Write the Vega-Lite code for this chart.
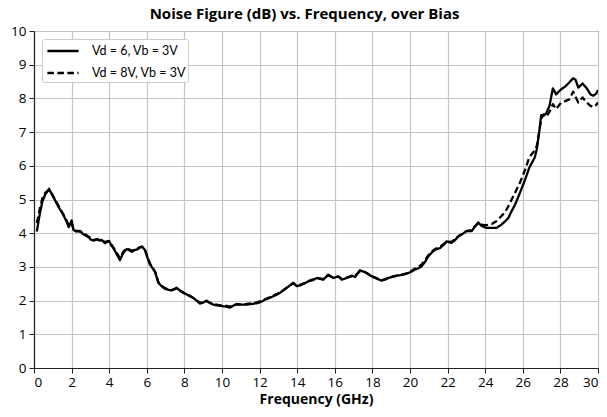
{
  "$schema": "https://vega.github.io/schema/vega-lite/v6.json",
  "autosize": "none",
  "width": 564,
  "height": 337,
  "padding": {"left": 34, "top": 31, "right": 9, "bottom": 49},
  "background": "white",
  "title": {
    "text": "Noise Figure (dB) vs. Frequency, over Bias",
    "font": "Open Sans",
    "fontSize": 15,
    "fontWeight": "bold",
    "color": "black",
    "anchor": "middle",
    "frame": "bounds",
    "offset": 2
  },
  "data": {
    "values": [
      {"f": 0.15, "vd6": 4.05, "vd8": 4.3},
      {"f": 0.3, "vd6": 4.55, "vd8": 4.7},
      {"f": 0.45, "vd6": 4.95, "vd8": 5.05},
      {"f": 0.6, "vd6": 5.15, "vd8": 5.2},
      {"f": 0.8, "vd6": 5.32, "vd8": 5.28},
      {"f": 0.95, "vd6": 5.15, "vd8": 5.18},
      {"f": 1.1, "vd6": 5.0, "vd8": 5.02},
      {"f": 1.3, "vd6": 4.78, "vd8": 4.82},
      {"f": 1.45, "vd6": 4.65, "vd8": 4.66},
      {"f": 1.6, "vd6": 4.5, "vd8": 4.52},
      {"f": 1.75, "vd6": 4.32, "vd8": 4.36},
      {"f": 1.85, "vd6": 4.18, "vd8": 4.22},
      {"f": 2.0, "vd6": 4.38, "vd8": 4.3},
      {"f": 2.1, "vd6": 4.1, "vd8": 4.12},
      {"f": 2.25, "vd6": 4.05, "vd8": 4.08},
      {"f": 2.45, "vd6": 4.07, "vd8": 4.05},
      {"f": 2.6, "vd6": 3.98, "vd8": 4.0},
      {"f": 2.75, "vd6": 3.93, "vd8": 3.96},
      {"f": 2.9, "vd6": 3.88, "vd8": 3.9},
      {"f": 3.05, "vd6": 3.8, "vd8": 3.84},
      {"f": 3.2, "vd6": 3.78, "vd8": 3.8},
      {"f": 3.35, "vd6": 3.83, "vd8": 3.82},
      {"f": 3.5, "vd6": 3.78, "vd8": 3.8},
      {"f": 3.6, "vd6": 3.8, "vd8": 3.78},
      {"f": 3.78, "vd6": 3.7, "vd8": 3.74},
      {"f": 3.9, "vd6": 3.75, "vd8": 3.76},
      {"f": 4.0, "vd6": 3.77, "vd8": 3.74},
      {"f": 4.1, "vd6": 3.65, "vd8": 3.68},
      {"f": 4.22, "vd6": 3.56, "vd8": 3.58},
      {"f": 4.4, "vd6": 3.38, "vd8": 3.42},
      {"f": 4.57, "vd6": 3.2, "vd8": 3.26},
      {"f": 4.75, "vd6": 3.42, "vd8": 3.45},
      {"f": 4.93, "vd6": 3.53, "vd8": 3.56},
      {"f": 5.05, "vd6": 3.5, "vd8": 3.52},
      {"f": 5.2, "vd6": 3.45, "vd8": 3.48},
      {"f": 5.35, "vd6": 3.5, "vd8": 3.52},
      {"f": 5.5, "vd6": 3.52, "vd8": 3.54},
      {"f": 5.62, "vd6": 3.57, "vd8": 3.58},
      {"f": 5.75, "vd6": 3.6, "vd8": 3.6},
      {"f": 5.9, "vd6": 3.5, "vd8": 3.52},
      {"f": 6.05, "vd6": 3.25, "vd8": 3.28},
      {"f": 6.17, "vd6": 3.07, "vd8": 3.1},
      {"f": 6.3, "vd6": 2.97, "vd8": 2.98},
      {"f": 6.44, "vd6": 2.85, "vd8": 2.86},
      {"f": 6.61, "vd6": 2.53, "vd8": 2.56},
      {"f": 6.8, "vd6": 2.42, "vd8": 2.44},
      {"f": 6.97, "vd6": 2.35, "vd8": 2.37},
      {"f": 7.15, "vd6": 2.32, "vd8": 2.33},
      {"f": 7.32, "vd6": 2.3, "vd8": 2.31},
      {"f": 7.45, "vd6": 2.33, "vd8": 2.34},
      {"f": 7.59, "vd6": 2.38, "vd8": 2.37},
      {"f": 7.75, "vd6": 2.3, "vd8": 2.31},
      {"f": 7.94, "vd6": 2.23, "vd8": 2.24},
      {"f": 8.2, "vd6": 2.16, "vd8": 2.17},
      {"f": 8.47, "vd6": 2.08, "vd8": 2.08},
      {"f": 8.65, "vd6": 2.0, "vd8": 2.01},
      {"f": 8.83, "vd6": 1.91, "vd8": 1.93},
      {"f": 9.0, "vd6": 1.94, "vd8": 1.95},
      {"f": 9.18, "vd6": 2.0, "vd8": 1.98},
      {"f": 9.35, "vd6": 1.93, "vd8": 1.94},
      {"f": 9.54, "vd6": 1.88, "vd8": 1.9},
      {"f": 9.8, "vd6": 1.85, "vd8": 1.87},
      {"f": 10.07, "vd6": 1.83, "vd8": 1.85},
      {"f": 10.25, "vd6": 1.82, "vd8": 1.84},
      {"f": 10.43, "vd6": 1.79, "vd8": 1.82},
      {"f": 10.6, "vd6": 1.85, "vd8": 1.86},
      {"f": 10.78, "vd6": 1.9, "vd8": 1.88},
      {"f": 11.0, "vd6": 1.88, "vd8": 1.89},
      {"f": 11.31, "vd6": 1.88, "vd8": 1.9},
      {"f": 11.6, "vd6": 1.9, "vd8": 1.92},
      {"f": 11.93, "vd6": 1.93, "vd8": 1.96},
      {"f": 12.1, "vd6": 1.97, "vd8": 1.99},
      {"f": 12.29, "vd6": 2.03, "vd8": 2.04},
      {"f": 12.5, "vd6": 2.07, "vd8": 2.09},
      {"f": 12.73, "vd6": 2.13, "vd8": 2.15},
      {"f": 13.0, "vd6": 2.2, "vd8": 2.22},
      {"f": 13.26, "vd6": 2.3, "vd8": 2.31},
      {"f": 13.5, "vd6": 2.4, "vd8": 2.41},
      {"f": 13.79, "vd6": 2.53, "vd8": 2.51},
      {"f": 13.97, "vd6": 2.43, "vd8": 2.45},
      {"f": 14.15, "vd6": 2.45, "vd8": 2.47},
      {"f": 14.35, "vd6": 2.5, "vd8": 2.51},
      {"f": 14.59, "vd6": 2.57, "vd8": 2.58},
      {"f": 14.8, "vd6": 2.6, "vd8": 2.62},
      {"f": 15.04, "vd6": 2.67, "vd8": 2.66},
      {"f": 15.2, "vd6": 2.65, "vd8": 2.66},
      {"f": 15.39, "vd6": 2.62, "vd8": 2.64},
      {"f": 15.65, "vd6": 2.77, "vd8": 2.74},
      {"f": 15.92, "vd6": 2.67, "vd8": 2.69},
      {"f": 16.19, "vd6": 2.72, "vd8": 2.71},
      {"f": 16.37, "vd6": 2.62, "vd8": 2.65},
      {"f": 16.63, "vd6": 2.67, "vd8": 2.68},
      {"f": 16.9, "vd6": 2.74, "vd8": 2.72},
      {"f": 17.08, "vd6": 2.7, "vd8": 2.73},
      {"f": 17.2, "vd6": 2.8, "vd8": 2.8},
      {"f": 17.34, "vd6": 2.9, "vd8": 2.87},
      {"f": 17.6, "vd6": 2.84, "vd8": 2.85},
      {"f": 17.8, "vd6": 2.78, "vd8": 2.79},
      {"f": 17.96, "vd6": 2.72, "vd8": 2.73},
      {"f": 18.2, "vd6": 2.66, "vd8": 2.67},
      {"f": 18.49, "vd6": 2.59, "vd8": 2.61},
      {"f": 18.65, "vd6": 2.62, "vd8": 2.63},
      {"f": 18.85, "vd6": 2.67, "vd8": 2.67},
      {"f": 19.05, "vd6": 2.7, "vd8": 2.71},
      {"f": 19.29, "vd6": 2.74, "vd8": 2.74},
      {"f": 19.55, "vd6": 2.76, "vd8": 2.77},
      {"f": 19.82, "vd6": 2.8, "vd8": 2.81},
      {"f": 20.05, "vd6": 2.85, "vd8": 2.87},
      {"f": 20.27, "vd6": 2.92, "vd8": 2.95},
      {"f": 20.45, "vd6": 2.96, "vd8": 3.0},
      {"f": 20.62, "vd6": 3.02, "vd8": 3.07},
      {"f": 20.8, "vd6": 3.15, "vd8": 3.2},
      {"f": 20.97, "vd6": 3.31, "vd8": 3.34},
      {"f": 21.15, "vd6": 3.42, "vd8": 3.45},
      {"f": 21.33, "vd6": 3.51, "vd8": 3.53},
      {"f": 21.6, "vd6": 3.56, "vd8": 3.6},
      {"f": 21.8, "vd6": 3.66, "vd8": 3.68},
      {"f": 21.95, "vd6": 3.76, "vd8": 3.76},
      {"f": 22.2, "vd6": 3.71, "vd8": 3.74},
      {"f": 22.4, "vd6": 3.8, "vd8": 3.82},
      {"f": 22.57, "vd6": 3.91, "vd8": 3.9},
      {"f": 22.8, "vd6": 3.98, "vd8": 3.99},
      {"f": 23.01, "vd6": 4.06, "vd8": 4.07},
      {"f": 23.28, "vd6": 4.06, "vd8": 4.09},
      {"f": 23.45, "vd6": 4.2, "vd8": 4.2},
      {"f": 23.63, "vd6": 4.32, "vd8": 4.3},
      {"f": 23.8, "vd6": 4.22, "vd8": 4.26},
      {"f": 23.9, "vd6": 4.19, "vd8": 4.25},
      {"f": 24.07, "vd6": 4.16, "vd8": 4.24},
      {"f": 24.35, "vd6": 4.16, "vd8": 4.27},
      {"f": 24.61, "vd6": 4.16, "vd8": 4.36},
      {"f": 24.88, "vd6": 4.26, "vd8": 4.52},
      {"f": 25.05, "vd6": 4.35, "vd8": 4.62},
      {"f": 25.23, "vd6": 4.45, "vd8": 4.8},
      {"f": 25.4, "vd6": 4.65, "vd8": 4.99},
      {"f": 25.59, "vd6": 4.85, "vd8": 5.2},
      {"f": 25.85, "vd6": 5.2, "vd8": 5.5},
      {"f": 26.12, "vd6": 5.59, "vd8": 5.88},
      {"f": 26.35, "vd6": 5.95, "vd8": 6.26},
      {"f": 26.63, "vd6": 6.24, "vd8": 6.45},
      {"f": 26.75, "vd6": 6.5, "vd8": 6.6},
      {"f": 26.87, "vd6": 7.0, "vd8": 7.0},
      {"f": 26.98, "vd6": 7.5, "vd8": 7.4},
      {"f": 27.1, "vd6": 7.5, "vd8": 7.52},
      {"f": 27.24, "vd6": 7.55, "vd8": 7.45},
      {"f": 27.42, "vd6": 7.78, "vd8": 7.6},
      {"f": 27.6, "vd6": 8.3, "vd8": 7.83},
      {"f": 27.77, "vd6": 8.12, "vd8": 7.68},
      {"f": 28.04, "vd6": 8.27, "vd8": 7.88},
      {"f": 28.25, "vd6": 8.35, "vd8": 7.92},
      {"f": 28.47, "vd6": 8.47, "vd8": 7.97},
      {"f": 28.68, "vd6": 8.6, "vd8": 8.2},
      {"f": 28.8, "vd6": 8.56, "vd8": 8.05},
      {"f": 28.95, "vd6": 8.32, "vd8": 7.88},
      {"f": 29.18, "vd6": 8.44, "vd8": 8.03},
      {"f": 29.4, "vd6": 8.3, "vd8": 7.88},
      {"f": 29.6, "vd6": 8.12, "vd8": 7.78},
      {"f": 29.75, "vd6": 8.08, "vd8": 7.74},
      {"f": 29.9, "vd6": 8.14, "vd8": 7.8},
      {"f": 30.0, "vd6": 8.25, "vd8": 7.88}
    ]
  },
  "transform": [
    {"fold": ["vd6", "vd8"], "as": ["bias", "nf"]}
  ],
  "mark": {"type": "line", "color": "black", "strokeWidth": 2.3, "strokeJoin": "round", "clip": true},
  "encoding": {
    "x": {
      "field": "f",
      "type": "quantitative",
      "scale": {"domain": [0, 30], "nice": false},
      "axis": {
        "title": "Frequency (GHz)",
        "values": [0, 2, 4, 6, 8, 10, 12, 14, 16, 18, 20, 22, 24, 26, 28, 30],
        "labelFontSize": 13.5,
        "labelPadding": 2,
        "titleFontSize": 14,
        "titlePadding": 4
      }
    },
    "y": {
      "field": "nf",
      "type": "quantitative",
      "scale": {"domain": [0, 10], "nice": false},
      "axis": {
        "title": null,
        "values": [0, 1, 2, 3, 4, 5, 6, 7, 8, 9, 10],
        "labelFontSize": 13.5,
        "labelPadding": 3
      }
    },
    "strokeDash": {
      "field": "bias",
      "type": "nominal",
      "scale": {"domain": ["vd6", "vd8"], "range": [[1, 0], [6.5, 3.5]]},
      "legend": {
        "title": null,
        "orient": "none",
        "legendX": 8,
        "legendY": 8,
        "labelExpr": "datum.label == 'vd6' ? 'Vd = 6, Vb = 3V' : 'Vd = 8V, Vb = 3V'",
        "symbolType": "M-1.8,0H1.8",
        "symbolSize": 300,
        "symbolStrokeWidth": 2.3,
        "symbolStrokeColor": "black",
        "symbolFillColor": "transparent",
        "symbolOffset": 9,
        "labelFontSize": 12.5,
        "labelFont": "Lato",
        "labelColor": "black",
        "labelOffset": 19,
        "rowPadding": 5,
        "padding": 2,
        "fillColor": "white",
        "strokeColor": "#cccccc",
        "cornerRadius": 2
      }
    }
  },
  "config": {
    "font": "Open Sans",
    "view": {"stroke": "#222222", "strokeWidth": 1},
    "axis": {
      "grid": true,
      "gridColor": "#c4c4c4",
      "gridWidth": 1.2,
      "domainColor": "#222222",
      "domainWidth": 1.2,
      "tickColor": "#222222",
      "tickSize": 5,
      "labelColor": "black",
      "labelFont": "Open Sans",
      "titleFont": "Open Sans",
      "titleFontWeight": "bold",
      "titleColor": "black"
    }
  }
}
